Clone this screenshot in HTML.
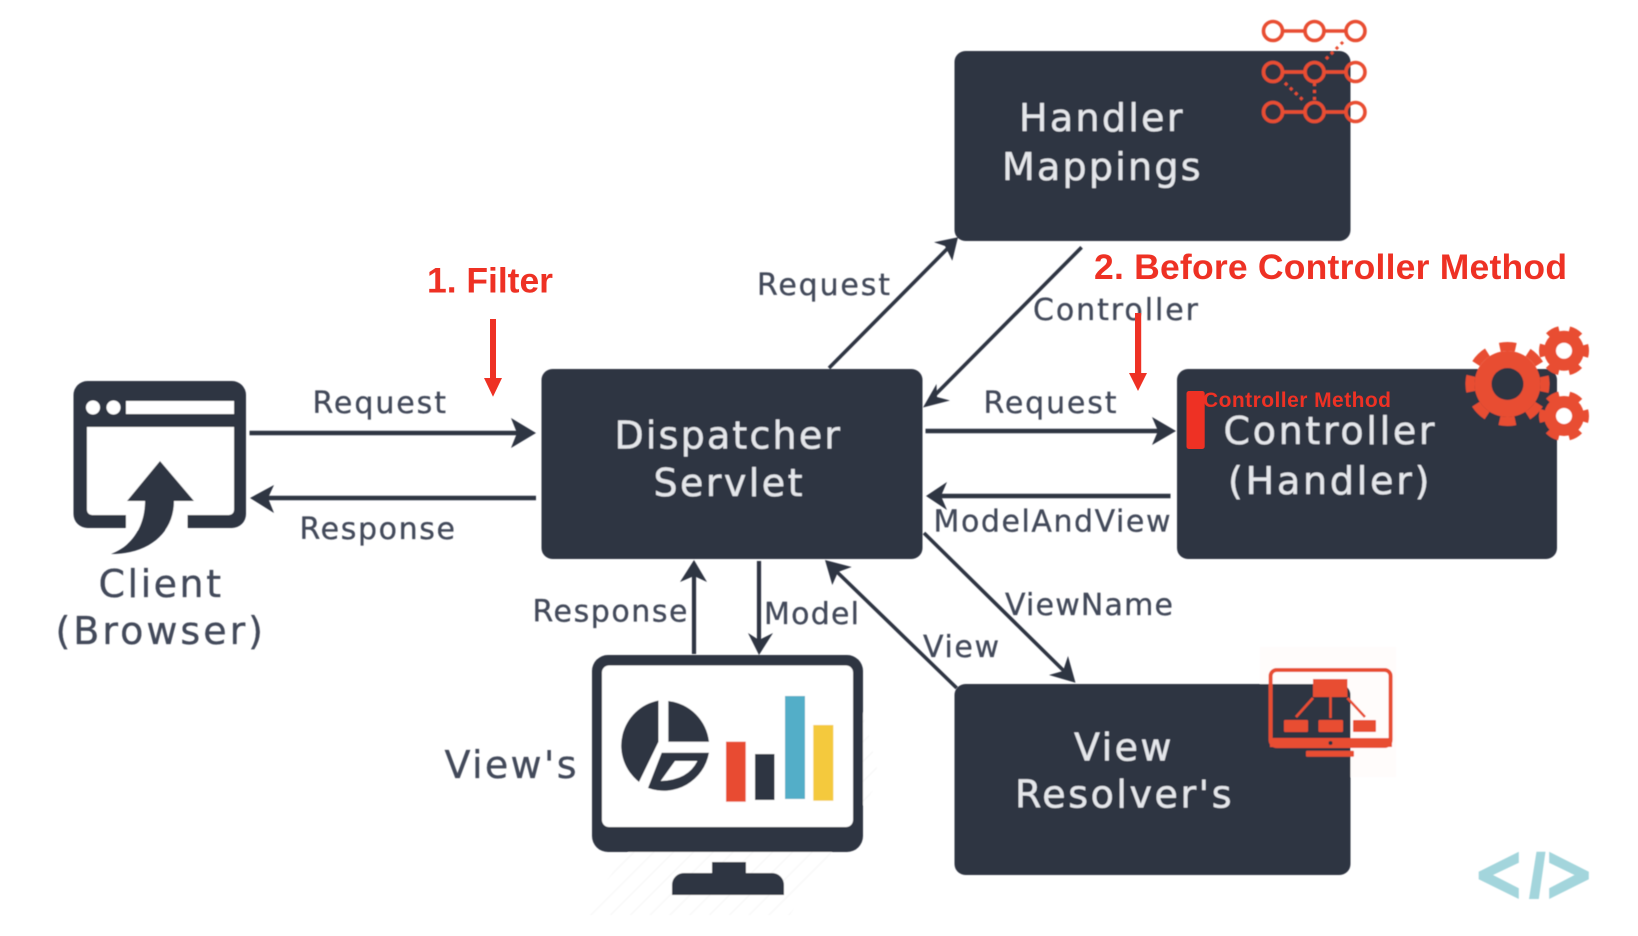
<!DOCTYPE html>
<html><head><meta charset="utf-8"><style>
html,body{margin:0;padding:0;background:#fff;width:1638px;height:936px;overflow:hidden}
svg{display:block}
.l{font-family:"DejaVu Sans","Liberation Sans",sans-serif;font-size:30px;fill:#434a5a;stroke:#434a5a;stroke-width:.3}
.c{font-family:"DejaVu Sans","Liberation Sans",sans-serif;font-size:38px;fill:#434a5a;stroke:#434a5a;stroke-width:.3}
.b{font-family:"DejaVu Sans","Liberation Sans",sans-serif;font-size:38px;fill:#e4e6ea;stroke:#e4e6ea;stroke-width:.3}
.r{font-family:"Liberation Sans",Arial,sans-serif;font-weight:bold;fill:#ee3124}
</style></head><body>
<svg width="1638" height="936" viewBox="0 0 1638 936" xmlns="http://www.w3.org/2000/svg">
<defs>
<filter id="s" x="-2%" y="-2%" width="104%" height="104%"><feGaussianBlur stdDeviation="0.65"/></filter>
<pattern id="h" width="14" height="14" patternUnits="userSpaceOnUse" patternTransform="rotate(45)"><rect width="14" height="14" fill="#fff"/><rect width="1.5" height="14" fill="#f8f8f8"/></pattern>
</defs>
<rect width="1638" height="936" fill="#fff"/>
<g filter="url(#s)">
<polygon points="690,915 580,915 630,850 860,700 880,780 790,915" fill="url(#h)"/>
<rect x="1260" y="647" width="136" height="130" fill="#fffcfb"/>

<!-- boxes -->
<rect x="954.5" y="51" width="396" height="190" rx="11" fill="#2f3443"/>
<rect x="541.5" y="369" width="381" height="190" rx="11" fill="#2f3443"/>
<rect x="1177" y="369" width="380" height="190" rx="11" fill="#2f3443"/>
<rect x="954.5" y="684" width="396" height="191" rx="11" fill="#2f3443"/>

<!-- browser -->
<rect x="73.5" y="381" width="172.5" height="147" rx="14" fill="#2f3443"/>
<path d="M87 427H234V510a5 5 0 0 1-5 5H92a5 5 0 0 1-5-5Z" fill="#fff"/>
<rect x="126" y="510" width="61.5" height="20" fill="#fff"/>
<rect x="126" y="401" width="108" height="13" fill="#fff"/>
<circle cx="93" cy="407.5" r="7" fill="#fff"/>
<circle cx="113.5" cy="407.5" r="7" fill="#fff"/>
<path d="M160 461L194 501H174C174 532 150 554 111 554C133 546 145 525 145 501H127Z" fill="#2f3443"/>

<!-- client arrows -->
<g stroke="#2f3443" stroke-width="4.5" fill="none">
<line x1="249.5" y1="433" x2="525" y2="433"/>
<line x1="262" y1="498" x2="536" y2="498"/>
<line x1="925.5" y1="431" x2="1165" y2="431"/>
<line x1="938" y1="496" x2="1170.5" y2="496"/>
</g>
<g fill="#2f3443">
<polygon points="536,433 511,418 517,433 511,448"/>
<polygon points="250,498 274,485 268,498 274,513"/>
<polygon points="1176,431 1152,417 1158,431 1152,445"/>
<polygon points="926,496 947,482 941,496 947,510"/>
</g>

<!-- diagonals -->
<g stroke="#2f3443" stroke-width="3.6" fill="none">
<line x1="829" y1="368" x2="950" y2="246"/>
<line x1="1081.6" y1="247.3" x2="932" y2="398"/>
<line x1="924" y1="533" x2="1066" y2="673"/>
<line x1="956.7" y1="688" x2="835" y2="570"/>
</g>
<g stroke="#2f3443" stroke-width="4.2" fill="none">
<line x1="694" y1="654" x2="694" y2="572"/>
<line x1="759" y1="561" x2="759" y2="645"/>
</g>
<g fill="#2f3443">
<polygon points="958,237.3 934,242.3 945,246 952.3,260.7"/>
<polygon points="923,407.5 950,400.5 937,397 936.5,384"/>
<polygon points="1075.5,682.7 1068,656 1063,671 1049,675"/>
<polygon points="825,560 851.7,567 838,572 832.3,585"/>
<polygon points="694,560 680,582 694,576 707,582"/>
<polygon points="759,655 748,633 759,640 773,633"/>
</g>

<!-- monitor -->
<rect x="592" y="655" width="271" height="197" rx="16" fill="#2f3443"/>
<rect x="602" y="665.5" width="251" height="161.5" rx="7" fill="#fff"/>
<rect x="712" y="862" width="34" height="15" fill="#2f3443"/>
<path d="M672 895V885a12 12 0 0 1 12-12H772a12 12 0 0 1 12 12V895Z" fill="#2f3443"/>
<g fill="#2f3443">
<path d="M658.5 700.5V741.7L639 782A46 46 0 0 1 658.5 700.5Z"/>
<path d="M668.3 701V741.7H709A46 46 0 0 0 668.3 701Z"/>
<path fill-rule="evenodd" d="M661.7 752.7H709A46 46 0 0 1 648 788ZM675 761L660.7 781Q688 780 697.3 761Z"/>
<rect x="755" y="754" width="19.5" height="46"/>
</g>
<rect x="726" y="741.7" width="19.7" height="60" fill="#e84c30"/>
<rect x="785" y="696" width="20" height="103" fill="#53aec8"/>
<rect x="813.3" y="725" width="20" height="75.7" fill="#f4c93d"/>

<!-- handler mappings icon -->
<g stroke="#e84e33" fill="none">
<g stroke-width="3.6">
<path d="M1283 31H1304.5M1324.5 31H1346M1283 72H1304.5M1324.5 72H1346M1283 112H1304.5M1324.5 112H1346"/>
<circle cx="1273" cy="31" r="9.5"/><circle cx="1314.5" cy="31" r="9.5"/><circle cx="1355.5" cy="31" r="9.5"/>
<circle cx="1273" cy="72" r="9.5"/><circle cx="1314.5" cy="72" r="9.5"/><circle cx="1355.5" cy="72" r="9.5"/>
<circle cx="1273" cy="112" r="9.5"/><circle cx="1314.5" cy="112" r="9.5"/><circle cx="1355.5" cy="112" r="9.5"/>
</g>
<g stroke-width="3" stroke-dasharray="3 4">
<line x1="1343" y1="42" x2="1325" y2="60"/>
<line x1="1285" y1="83" x2="1305" y2="102"/>
<line x1="1314.5" y1="83" x2="1314.5" y2="100"/>
</g>
</g>

<!-- gears -->
<g fill="#e84e33">
<circle cx="1507.5" cy="384" r="33"/>
<circle cx="1507.5" cy="384" r="37.5" fill="none" stroke="#e84e33" stroke-width="9" stroke-dasharray="16 13.45" stroke-dashoffset="8"/>
<circle cx="1564" cy="350.7" r="20"/>
<circle cx="1564" cy="350.7" r="22" fill="none" stroke="#e84e33" stroke-width="6" stroke-dasharray="12.5 10.54" stroke-dashoffset="6.25"/>
<circle cx="1564" cy="416" r="20"/>
<circle cx="1564" cy="416" r="22" fill="none" stroke="#e84e33" stroke-width="6" stroke-dasharray="12.5 10.54" stroke-dashoffset="6.25"/>
</g>
<circle cx="1507.5" cy="384" r="16" fill="#2f3443"/>
<circle cx="1564" cy="350.7" r="8" fill="#fff"/>
<circle cx="1564" cy="416" r="8" fill="#fff"/>

<!-- view resolver icon -->
<rect x="1270.6" y="670" width="120" height="76" rx="6" fill="none" stroke="#e84e33" stroke-width="4"/>
<rect x="1270" y="738" width="122" height="9" fill="#e84e33"/>
<rect x="1306" y="750.7" width="48" height="6" rx="1" fill="#e84e33"/>
<circle cx="1330.5" cy="743" r="2" fill="#2f3443"/>
<g fill="#e84e33">
<rect x="1313" y="679" width="34.4" height="18"/>
<rect x="1284" y="720" width="24" height="12" rx="1"/>
<rect x="1318.5" y="720" width="24.5" height="12" rx="1"/>
<rect x="1353" y="720" width="23" height="12" rx="1"/>
</g>
<g stroke="#e84e33" stroke-width="2.6">
<line x1="1313" y1="698" x2="1296" y2="717"/>
<line x1="1330.5" y1="697" x2="1330.5" y2="718"/>
<line x1="1347.4" y1="698" x2="1365" y2="717"/>
</g>

<!-- logo -->
<g fill="#a3d5dc">
<polygon points="1518.8,851.7 1478.7,871.7 1478.7,879.3 1518.8,899 1518.8,888.3 1493,875 1518.8,862.7"/>
<polygon points="1536.5,851.7 1545.5,851.7 1538.8,899 1529,899"/>
<polygon points="1549.2,851.7 1588.8,871.7 1588.8,879.3 1549.2,899 1549.2,888.3 1574.5,875 1549.2,862.7"/>
</g>

<!-- labels -->
<text class="l" x="312.5" y="413" textLength="133.5">Request</text>
<text class="l" x="299.5" y="539" textLength="155.5">Response</text>
<text class="c" x="98.5" y="597" textLength="122.5">Client</text>
<text class="c" x="55.5" y="644" textLength="207.5">(Browser)</text>
<text class="l" x="757" y="295" textLength="133">Request</text>
<text class="l" x="1033" y="320" textLength="165">Controller</text>
<text class="l" x="983.5" y="413" textLength="133">Request</text>
<text class="l" x="933.5" y="531.7" textLength="237">ModelAndView</text>
<text class="l" x="532.5" y="621.7" textLength="155">Response</text>
<text class="l" x="764" y="624" textLength="95">Model</text>
<text class="l" x="1005" y="615" textLength="168">ViewName</text>
<text class="l" x="923" y="657" textLength="76">View</text>
<text class="c" x="444.5" y="778" textLength="132">View's</text>
<text class="b" x="1019" y="131" textLength="163.5">Handler</text>
<text class="b" x="1002" y="180" textLength="198.5">Mappings</text>
<text class="b" x="614.5" y="448.3" textLength="225.5">Dispatcher</text>
<text class="b" x="653.5" y="496" textLength="149">Servlet</text>
<text class="b" x="1223.5" y="444" textLength="211">Controller</text>
<text class="b" x="1228" y="494" textLength="201.5">(Handler)</text>
<text class="b" x="1074" y="760.7" textLength="97.5">View</text>
<text class="b" x="1015" y="807.7" textLength="216.5">Resolver's</text>
</g>

<!-- red annotations -->
<text class="r" x="427" y="292.7" font-size="35.5" textLength="126">1. Filter</text>
<rect x="490" y="319" width="6" height="60" fill="#ee3124"/>
<polygon points="484,378 502,378 493,396.7" fill="#ee3124"/>
<text class="r" x="1094" y="279" font-size="35.5" textLength="473">2. Before Controller Method</text>
<rect x="1135" y="313" width="6.2" height="61" fill="#ee3124"/>
<polygon points="1129,373 1147,373 1138,391" fill="#ee3124"/>
<rect x="1186.5" y="391" width="18.2" height="58" rx="2.5" fill="#ee3124"/>
<text class="r" x="1203" y="407" font-size="21" textLength="188">Controller Method</text>
</svg>
</body></html>
